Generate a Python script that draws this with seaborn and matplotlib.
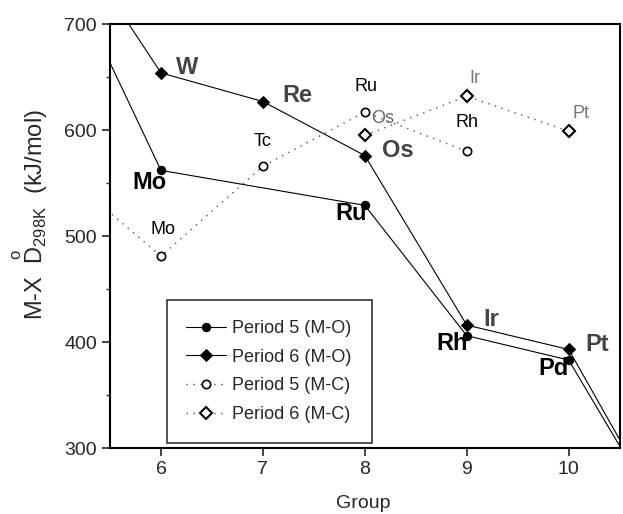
import pandas as pd
import seaborn as sns
import matplotlib.pyplot as plt
from matplotlib.ticker import MultipleLocator

# groups 5 and 11 lie outside the view; only the line segments into them show
groups_p5_mo = [5, 6, 8, 9, 10, 11]
vals_p5_mo = [765, 562, 529, 406, 383, 221]
groups_p6_mo = [5, 6, 7, 8, 9, 10, 11]
vals_p6_mo = [800, 654, 627, 576, 416, 393, 223]
groups_p5_mc = [5, 6, 7, 8, 9]
vals_p5_mc = [563, 481, 566, 617, 580]
groups_p6_mc = [8, 9, 10]
vals_p6_mc = [595, 632, 599]

# point labels: text, x, y, colour
labels_mo = [('W', 6.26, 659, '#444444'), ('Re', 7.34, 633, '#444444'),
             ('Os', 8.32, 581, '#444444'), ('Ir', 9.24, 421, '#444444'),
             ('Pt', 10.28, 398, '#444444'), ('Mo', 5.89, 551, 'black'),
             ('Ru', 7.87, 521, 'black'), ('Rh', 8.86, 399, 'black'),
             ('Pd', 9.85, 375, 'black')]
labels_mc = [('Mo', 6.02, 506, 'black'), ('Tc', 7.0, 589, 'black'),
             ('Ru', 8.01, 641, 'black'), ('Os', 8.17, 611, '#666666'),
             ('Rh', 9.0, 607, 'black'), ('Ir', 9.08, 649, '#777777'),
             ('Pt', 10.12, 616, '#777777')]

sns.set_style('ticks')
plt.rcParams['font.family'] = ['Liberation Sans', 'DejaVu Sans']
plt.rcParams['mathtext.fontset'] = 'custom'
plt.rcParams['mathtext.rm'] = 'Liberation Sans'

fig = plt.figure(figsize=(6.23, 5.14), dpi=100)
ax = fig.add_axes([0.1766, 0.1284, 0.818, 0.8246])

sns.lineplot(x=groups_p5_mo, y=vals_p5_mo, ax=ax, color='black', lw=0.8,
             marker='o', markersize=6, markerfacecolor='black',
             markeredgecolor='black', label='Period 5 (M-O)')
sns.lineplot(x=groups_p6_mo, y=vals_p6_mo, ax=ax, color='black', lw=0.8,
             marker='D', markersize=6.5, markerfacecolor='black',
             markeredgecolor='black', label='Period 6 (M-O)')
sns.lineplot(x=groups_p5_mc, y=vals_p5_mc, ax=ax, color='#555555', lw=1.0,
             linestyle=(0, (1, 4)), marker='o', markersize=6,
             markerfacecolor='white', markeredgecolor='black',
             markeredgewidth=1.2, label='Period 5 (M-C)')
sns.lineplot(x=groups_p6_mc, y=vals_p6_mc, ax=ax, color='#555555', lw=1.0,
             linestyle=(0, (1, 4)), marker='D', markersize=6,
             markerfacecolor='white', markeredgecolor='black',
             markeredgewidth=1.5, label='Period 6 (M-C)')

for t, x, y, c in labels_mo:
    ax.text(x, y, t, fontsize=17, fontweight='bold', color=c,
            ha='center', va='center')
for t, x, y, c in labels_mc:
    ax.text(x, y, t, fontsize=13, color=c, ha='center', va='center')

ax.set_xlim(5.5, 10.5)
ax.set_ylim(300, 700)
ax.set_xticks([6, 7, 8, 9, 10])
ax.set_yticks([300, 400, 500, 600, 700])
ax.yaxis.set_minor_locator(MultipleLocator(50))
ax.tick_params(axis='both', which='major', direction='out', length=6,
               width=1.2, labelsize=14)
ax.tick_params(axis='y', which='minor', direction='out', length=3, width=1)
for s in ax.spines.values():
    s.set_visible(True)
    s.set_linewidth(1.5)
    s.set_color('black')

ax.set_xlabel('Group', fontsize=14)
ax.xaxis.set_label_coords(0.497, -0.11)
ax.set_ylabel(r'M-X  $\overset{\mathrm{o}}{\mathrm{D}}_{\mathrm{298K}}$  (kJ/mol)',
              fontsize=17)
ax.yaxis.set_label_coords(-0.118, 0.55)

leg = ax.legend(loc='lower left', bbox_to_anchor=(0.111, 0.012, 0.404, 0.344),
                mode='expand', fontsize=13, frameon=True, fancybox=False,
                edgecolor='black', borderpad=1.1, labelspacing=0.65,
                handlelength=2.2, handletextpad=0.35, borderaxespad=0)
leg.get_frame().set_linewidth(1.2)

fig.savefig('out.png', dpi=100)
